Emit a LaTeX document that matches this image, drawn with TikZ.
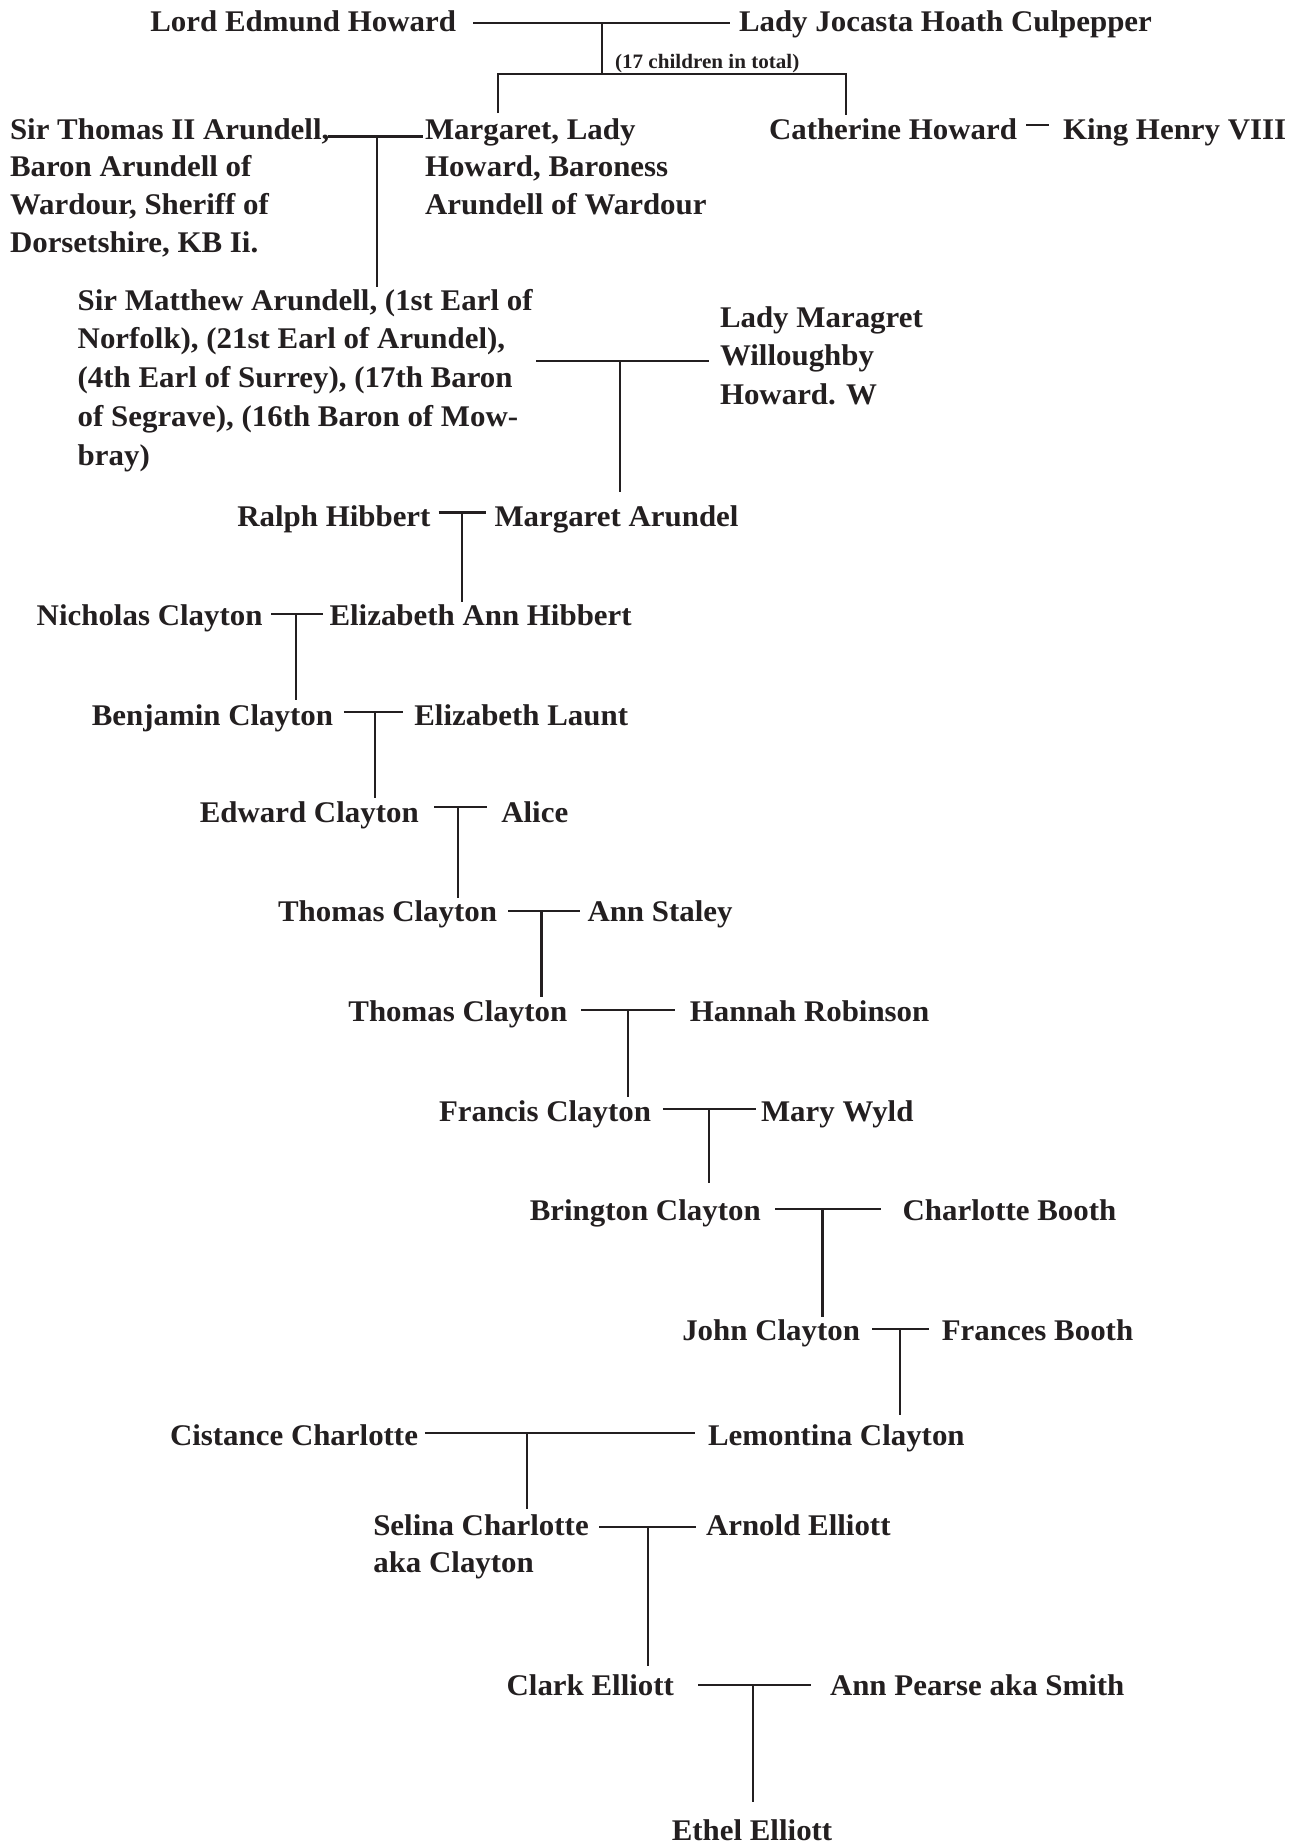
\documentclass[tikz,border=0pt]{standalone}
\usepackage{fontspec}
\setmainfont{Liberation Serif}[FakeStretch=1.03]
\definecolor{ink}{RGB}{35,31,32}
% several name lines stacked, baseline on the first line
\newcommand{\namelines}[1]{\begin{tabular}[t]{@{}l@{}}#1\end{tabular}}

\begin{document}
\begin{tikzpicture}[
  x=1pt, y=-1pt,
  every node/.style={inner sep=0pt, outer sep=0pt, text=ink},
  person/.style={font=\bfseries\fontsize{30}{37.7}\selectfont},
  widelead/.style={font=\bfseries\fontsize{30}{38.8}\selectfont},
  note/.style={font=\bfseries\fontsize{20.5}{24}\selectfont},
  link/.style={draw=ink, line width=2.3pt}
]
\useasboundingbox[fill=white] (0,0) rectangle (1299,1845);

% ---------- Howard / Culpepper ----------
\node[person, anchor=base east] (edmund) at (456,31) {Lord Edmund Howard};
\node[person, anchor=base west] (jocasta) at (739,31) {Lady Jocasta Hoath Culpepper};
\coordinate (m1l) at (473,23);  \coordinate (m1r) at (730,23);
\coordinate (m1c) at (602,23);  \coordinate (k1) at (602,74);
\draw[link] (m1l) -- (m1r);
\draw[link] (m1c) -- (k1);
\node[note, anchor=base west] (count) at (615,68) {(17 children in total)};
\coordinate (k1l) at (498,74); \coordinate (k1r) at (846,74);
\coordinate (k1ld) at (498,113); \coordinate (k1rd) at (846,115);
\draw[link] (k1ld) -- (k1l) -- (k1r) -- (k1rd);

% ---------- Arundell / Howard ----------
\node[person, anchor=base west] (thomasA) at (10,139)
  {\namelines{Sir Thomas II Arundell,\\Baron Arundell of\\Wardour, Sheriff of\\Dorsetshire, KB Ii.}};
\node[person, anchor=base west] (margaretH) at (425,139)
  {\namelines{Margaret, Lady\\Howard, Baroness\\Arundell of Wardour}};
\node[person, anchor=base west] (catherine) at (769,139) {Catherine Howard};
\node[person, anchor=base west] (henry) at (1063,139) {King Henry VIII};
\coordinate (d1l) at (1026,125); \coordinate (d1r) at (1049,125);
\draw[link] (d1l) -- (d1r);
\coordinate (m2l) at (328,136.5); \coordinate (m2r) at (423,136.5);
\coordinate (m2c) at (377,136.5); \coordinate (k2) at (377,287);
\draw[link] (m2l) -- (m2r);
\draw[link] (m2c) -- (k2);

% ---------- Sir Matthew / Lady Maragret ----------
\node[widelead, anchor=base west] (matthew) at (77.7,310)
  {\namelines{Sir Matthew Arundell, (1st Earl of\\Norfolk), (21st Earl of Arundel),\\(4th Earl of Surrey), (17th Baron\\of Segrave), (16th Baron of Mow-\\bray)}};
\node[person, font=\bfseries\fontsize{30}{38.5}\selectfont, anchor=base west] (maragret) at (720,327)
  {\namelines{Lady Maragret\\Willoughby\\Howard. W}};
\coordinate (m3l) at (536,361); \coordinate (m3r) at (709,361);
\coordinate (m3c) at (620,361); \coordinate (k3) at (620,492);
\draw[link] (m3l) -- (m3r);
\draw[link] (m3c) -- (k3);

% ---------- Hibbert / Arundel ----------
\node[person, anchor=base east] (ralph) at (430.5,526) {Ralph Hibbert};
\node[person, anchor=base west] (margaretA) at (494.5,526) {Margaret Arundel};
\coordinate (m4l) at (438.7,512.5); \coordinate (m4r) at (486,512.5);
\coordinate (m4c) at (462,512.5); \coordinate (k4) at (462,602);
\draw[link] (m4l) -- (m4r);
\draw[link] (m4c) -- (k4);

% ---------- Clayton line ----------
\node[person, anchor=base east] (nicholas) at (262.5,625) {Nicholas Clayton};
\node[person, anchor=base west] (elizabethH) at (329.5,625) {Elizabeth Ann Hibbert};
\coordinate (m5l) at (271.4,614); \coordinate (m5r) at (322.8,614);
\coordinate (m5c) at (296,614); \coordinate (k5) at (296,700);
\draw[link] (m5l) -- (m5r);
\draw[link] (m5c) -- (k5);

\node[person, anchor=base east] (benjamin) at (333,725) {Benjamin Clayton};
\node[person, anchor=base west] (launt) at (414.3,725) {Elizabeth Launt};
\coordinate (m6l) at (343.8,712.3); \coordinate (m6r) at (403,712.3);
\coordinate (m6c) at (375,712.3); \coordinate (k6) at (375,798);
\draw[link] (m6l) -- (m6r);
\draw[link] (m6c) -- (k6);

\node[person, anchor=base east] (edward) at (418.7,822.7) {Edward Clayton};
\node[person, anchor=base west] (alice) at (501.3,822.7) {Alice};
\coordinate (m7l) at (434.4,807.3); \coordinate (m7r) at (487,807.3);
\coordinate (m7c) at (458,807.3); \coordinate (k7) at (458,898);
\draw[link] (m7l) -- (m7r);
\draw[link] (m7c) -- (k7);

\node[person, anchor=base east] (thomas1) at (497,921.7) {Thomas Clayton};
\node[person, anchor=base west] (staley) at (587.5,921.7) {Ann Staley};
\coordinate (m8l) at (508,910.7); \coordinate (m8r) at (579.5,910.7);
\coordinate (m8c) at (541.5,910.7); \coordinate (k8) at (541.5,997);
\draw[link] (m8l) -- (m8r);
\draw[link] (m8c) -- (k8);

\node[person, anchor=base east] (thomas2) at (567.3,1021.7) {Thomas Clayton};
\node[person, anchor=base west] (hannah) at (689.8,1021.7) {Hannah Robinson};
\coordinate (m9l) at (581,1010); \coordinate (m9r) at (674.5,1010);
\coordinate (m9c) at (628,1010); \coordinate (k9) at (628,1096.7);
\draw[link] (m9l) -- (m9r);
\draw[link] (m9c) -- (k9);

\node[person, anchor=base east] (francis) at (651,1121.7) {Francis Clayton};
\node[person, anchor=base west] (wyld) at (761,1121.7) {Mary Wyld};
\coordinate (m10l) at (662.8,1109.3); \coordinate (m10r) at (756,1109.3);
\coordinate (m10c) at (708.7,1109.3); \coordinate (k10) at (708.7,1182.7);
\draw[link] (m10l) -- (m10r);
\draw[link] (m10c) -- (k10);

\node[person, anchor=base east] (brington) at (760.7,1220) {Brington Clayton};
\node[person, anchor=base west] (charlotte) at (902.6,1220) {Charlotte Booth};
\coordinate (m11l) at (775,1209); \coordinate (m11r) at (880.6,1209);
\coordinate (m11c) at (822.4,1209); \coordinate (k11) at (822.4,1316.7);
\draw[link] (m11l) -- (m11r);
\draw[link] (m11c) -- (k11);

\node[person, anchor=base east] (john) at (860,1340) {John Clayton};
\node[person, anchor=base west] (frances) at (941.8,1340) {Frances Booth};
\coordinate (m12l) at (872,1329); \coordinate (m12r) at (929,1329);
\coordinate (m12c) at (900.2,1329); \coordinate (k12) at (900.2,1415);
\draw[link] (m12l) -- (m12r);
\draw[link] (m12c) -- (k12);

\node[person, anchor=base east] (cistance) at (418,1445) {Cistance Charlotte};
\node[person, anchor=base west] (lemontina) at (708,1445) {Lemontina Clayton};
\coordinate (m13l) at (424.8,1433.3); \coordinate (m13r) at (694.8,1433.3);
\coordinate (m13c) at (526.7,1433.3); \coordinate (k13) at (526.7,1509);
\draw[link] (m13l) -- (m13r);
\draw[link] (m13c) -- (k13);

% ---------- Elliott ----------
\node[person, anchor=base west] (selina) at (373.3,1535)
  {\namelines{Selina Charlotte\\aka Clayton}};
\node[person, anchor=base west] (arnold) at (706,1535) {Arnold Elliott};
\coordinate (m14l) at (599,1526.7); \coordinate (m14r) at (696,1526.7);
\coordinate (m14c) at (648,1526.7); \coordinate (k14) at (648,1666);
\draw[link] (m14l) -- (m14r);
\draw[link] (m14c) -- (k14);

\node[person, anchor=base east] (clark) at (674,1695) {Clark Elliott};
\node[person, anchor=base west] (pearse) at (830,1695) {Ann Pearse aka Smith};
\coordinate (m15l) at (698,1685); \coordinate (m15r) at (811,1685);
\coordinate (m15c) at (753,1685); \coordinate (k15) at (753,1801.7);
\draw[link] (m15l) -- (m15r);
\draw[link] (m15c) -- (k15);

\node[person, anchor=base] (ethel) at (752,1840) {Ethel Elliott};
\end{tikzpicture}
\end{document}
